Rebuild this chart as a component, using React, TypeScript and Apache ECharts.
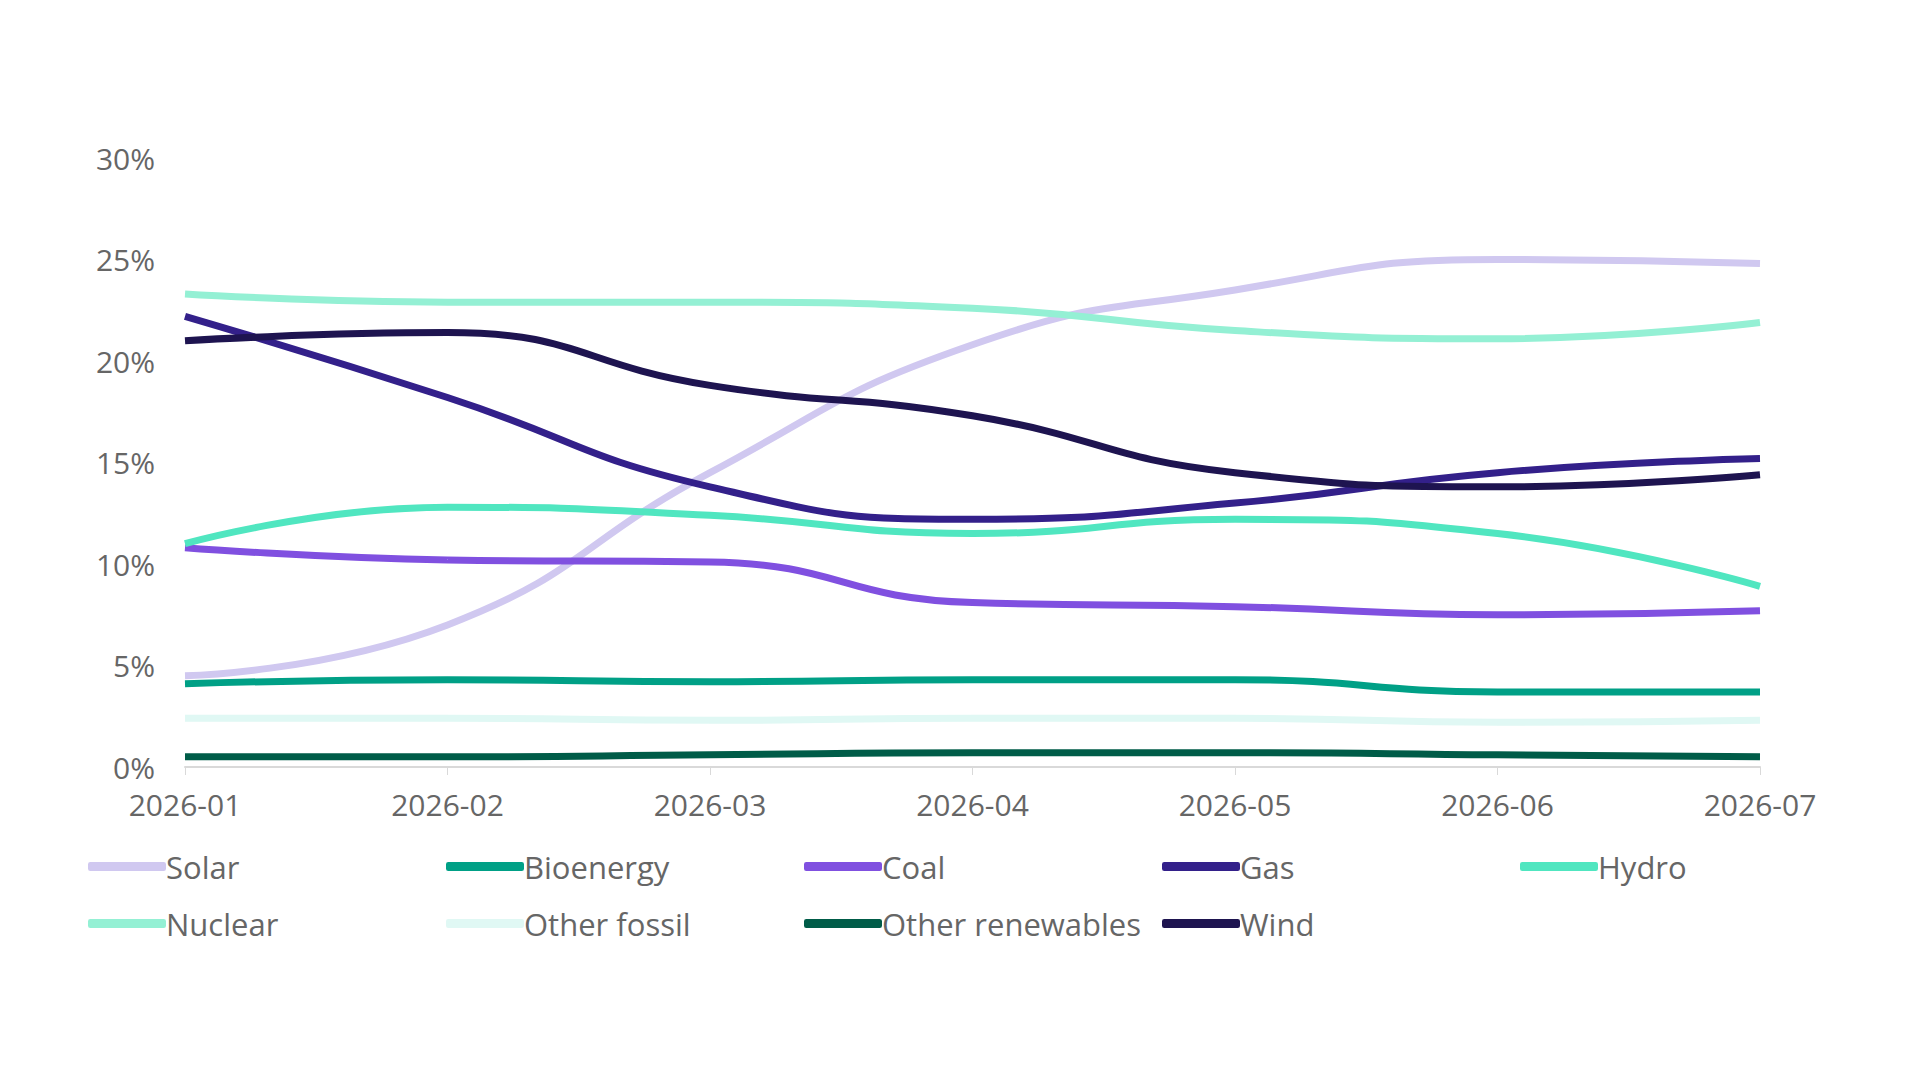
import React, { useEffect, useRef } from "react";
import * as echarts from "echarts";

const months = ["2026-01", "2026-02", "2026-03", "2026-04", "2026-05", "2026-06", "2026-07"];
const solar = [4.5, 7.0, 14.5, 20.8, 23.5, 25.0, 24.8];
const bioenergy = [4.1, 4.3, 4.2, 4.3, 4.3, 3.7, 3.7];
const coal = [10.8, 10.2, 10.1, 8.1, 7.9, 7.5, 7.7];
const gas = [22.2, 18.2, 13.8, 12.2, 13.0, 14.5, 15.2];
const hydro = [11.0, 12.8, 12.4, 11.5, 12.2, 11.5, 8.9];
const nuclear = [23.3, 22.9, 22.9, 22.6, 21.5, 21.1, 21.9];
const otherFossil = [2.4, 2.4, 2.3, 2.4, 2.4, 2.2, 2.3];
const otherRenewables = [0.5, 0.5, 0.6, 0.7, 0.7, 0.6, 0.5];
const wind = [21.0, 21.4, 18.8, 17.3, 14.5, 13.8, 14.4];

const seriesDefs = [
  { name: "Solar", data: solar, color: "#d0c8f0" },
  { name: "Bioenergy", data: bioenergy, color: "#00a086" },
  { name: "Coal", data: coal, color: "#8050e0" },
  { name: "Gas", data: gas, color: "#33208a" },
  { name: "Hydro", data: hydro, color: "#50e6c0" },
  { name: "Nuclear", data: nuclear, color: "#94f0d4" },
  { name: "Other fossil", data: otherFossil, color: "#e0f8f4" },
  { name: "Other renewables", data: otherRenewables, color: "#005c48" },
  { name: "Wind", data: wind, color: "#1e1450" },
];

export default function App() {
  const ref = useRef<HTMLDivElement>(null);
  useEffect(() => {
    const chart = echarts.init(ref.current!, null, { renderer: "svg" });
    const font = "'Open Sans', 'Noto Sans', sans-serif";
    chart.setOption({
      animation: false,
      textStyle: { fontFamily: font },
      grid: { left: 177, right: 152, top: 150, height: 609, containLabel: false },
      xAxis: {
        type: "category",
        data: months,
        boundaryGap: false,
        axisLine: { lineStyle: { color: "#d9d9d9", width: 2 } },
        axisTick: { show: true, length: 8, lineStyle: { color: "#d9d9d9" } },
        axisLabel: { color: "#666", fontSize: 30, margin: 22, fontFamily: font },
      },
      yAxis: {
        type: "value",
        min: 0,
        max: 30,
        interval: 5,
        splitLine: { show: false },
        axisLine: { show: false },
        axisTick: { show: false },
        axisLabel: { color: "#666", fontSize: 30, margin: 30, formatter: "{value}%", fontFamily: font },
      },
      legend: seriesDefs.map((s, i) => ({
        left: 75 + (i % 5) * 358,
        top: (i < 5 ? 860 : 917) - 22,
        icon: "roundRect",
        itemWidth: 78,
        itemHeight: 9,
        itemGap: 0,
        textStyle: { color: "#666", fontSize: 31, padding: [0, 0, 0, -5], fontFamily: font },
        data: [s.name],
      })),
      series: seriesDefs.map((s) => ({
        name: s.name,
        type: "line",
        data: s.data,
        smooth: true,
        symbol: "none",
        lineStyle: { color: s.color, width: 7 },
        itemStyle: { color: s.color },
      })),
    });
    return () => chart.dispose();
  }, []);
  return <div ref={ref} style={{ width: 1904, height: 1064 }} />;
}
